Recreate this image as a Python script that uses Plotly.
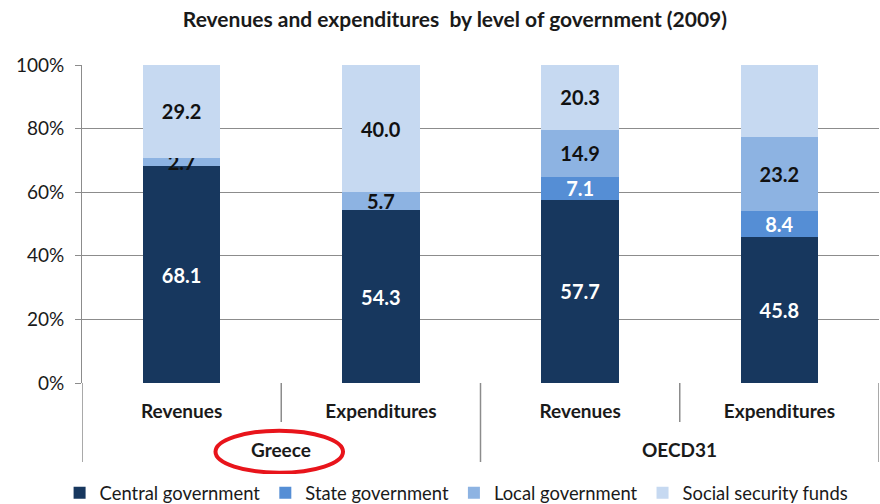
import plotly.graph_objects as go

# Shares of revenues / expenditures by level of government, 2009 (%)
groups = ["Greece", "OECD31"]
measures = ["Revenues", "Expenditures", "Revenues", "Expenditures"]
central = [68.1, 54.3, 57.7, 45.8]
state = [None, None, 7.1, 8.4]
local = [2.7, 5.7, 14.9, 23.2]
social = [29.2, 40.0, 20.3, 22.7]

series = [
    ("Central government", central, "#17375E", "white"),
    ("State government", state, "#558ED5", "white"),
    ("Local government", local, "#8DB3E2", "#111111"),
    ("Social security funds", social, "#C6D9F1", "#111111"),
]

FONT = "Lato"
GRID = "#8C8C8C"
xpos = list(range(len(measures)))

fig = go.Figure()
for name, vals, color, tcol in series:
    fig.add_trace(go.Bar(
        x=xpos, y=vals, name=name,
        marker=dict(color=color, line=dict(width=0)),
        text=["" if v is None else f"{v:.1f}" for v in vals],
        textposition="inside", insidetextanchor="middle",
        constraintext="none", cliponaxis=False,
        textfont=dict(family=FONT, size=20, color=tcol, weight="bold"),
        hoverinfo="skip",
    ))

fig.update_layout(
    barmode="stack", bargap=0.61,
    width=880, height=504,
    margin=dict(l=82, r=1, t=65, b=121, autoexpand=False),
    paper_bgcolor="white", plot_bgcolor="white",
    font=dict(family=FONT, color="#1a1a1a"),
    title=dict(text="<b>Revenues and expenditures  by level of government (2009)</b>",
               x=0.517, xanchor="center", y=0.962, yanchor="middle",
               font=dict(family=FONT, size=21, color="#1a1a1a")),
    showlegend=True,
    legend=dict(orientation="h", x=0.47, xanchor="center",
                y=0.022, yref="container", yanchor="middle",
                font=dict(family=FONT, size=18.4, color="#1a1a1a"),
                traceorder="normal", itemwidth=30),
)

fig.update_yaxes(
    range=[0, 100], tickvals=[0, 20, 40, 60, 80, 100],
    ticktext=["0%", "20%", "40%", "60%", "80%", "100%"],
    showgrid=True, gridcolor=GRID, gridwidth=1,
    showline=True, linecolor=GRID, linewidth=1,
    ticks="outside", ticklen=6, tickcolor=GRID,
    ticklabelstandoff=7,
    tickfont=dict(family=FONT, size=19, color="#1a1a1a"),
    zeroline=False,
)
fig.update_xaxes(
    range=[-0.5, 3.5], tickvals=xpos, ticktext=[f"<b>{m}</b>" for m in measures],
    showgrid=False, zeroline=False, showline=False,
    ticks="outside", ticklen=11, tickcolor="rgba(0,0,0,0)",
    tickfont=dict(family=FONT, size=19, color="#1a1a1a"),
)

# Category dividers below the axis
short_y, long_y = -0.1226, -0.2484
for xv, y0, y1 in [(-0.5, 0, long_y), (0.5, 0, short_y), (1.5, 0, long_y),
                   (2.5, 0, short_y), (3.5, 0, long_y)]:
    fig.add_shape(type="line", xref="x", yref="paper", x0=xv, x1=xv, y0=y0, y1=y1,
                  line=dict(color=GRID, width=1.5))

# Group labels
for i, g in enumerate(groups):
    fig.add_annotation(x=2 * i + 0.5, xref="x", y=-0.2105, yref="paper",
                       text=f"<b>{g}</b>", showarrow=False, yanchor="middle",
                       font=dict(family=FONT, size=19, color="#1a1a1a"))

# Red highlight around the Greece label
fig.add_shape(type="circle", xref="x", yref="paper",
              x0=0.17, x1=0.81, y0=-0.150, y1=-0.282,
              line=dict(color="#E8141B", width=4))

fig.write_html("out.html")
